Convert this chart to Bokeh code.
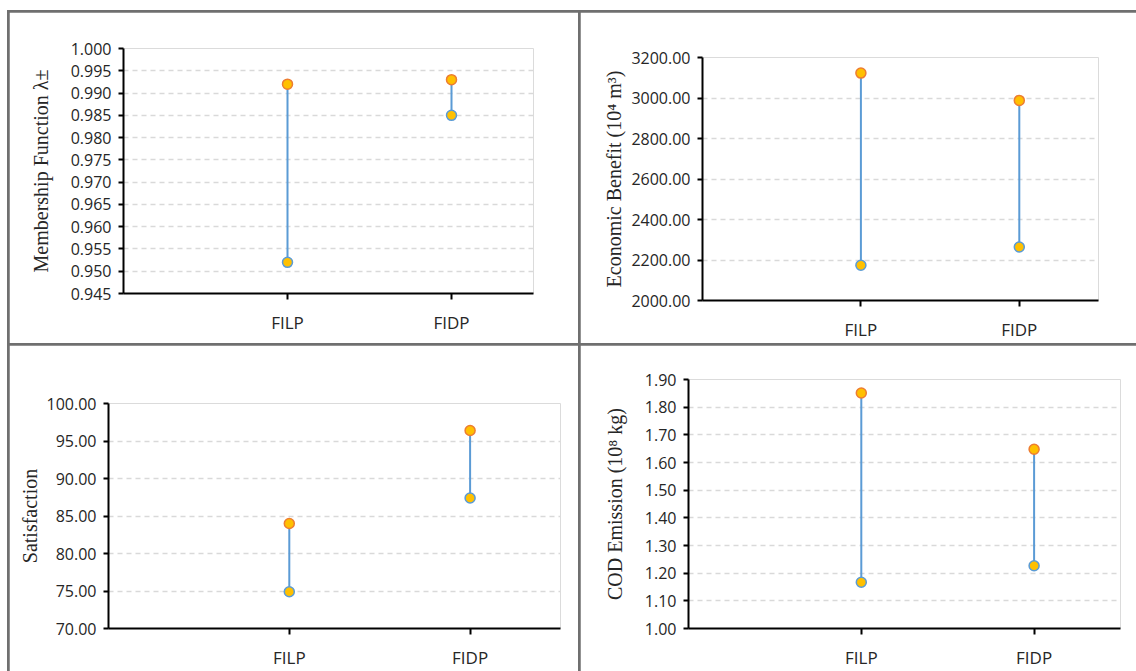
from bokeh.plotting import figure
from bokeh.layouts import row, column
from bokeh.models import FixedTicker, NumeralTickFormatter, Range1d
from bokeh.embed import file_html
from bokeh.resources import INLINE

# ---------------- data ----------------
categories = ["FILP", "FIDP"]
cat_pos = [1, 2]

membership_upper = [0.992, 0.993]
membership_lower = [0.952, 0.985]
membership_ticks = [0.945, 0.950, 0.955, 0.960, 0.965, 0.970, 0.975, 0.980, 0.985, 0.990, 0.995, 1.000]

benefit_upper = [3123, 2988]
benefit_lower = [2174, 2264]
benefit_ticks = [2000, 2200, 2400, 2600, 2800, 3000, 3200]

satisfaction_upper = [84.0, 96.4]
satisfaction_lower = [74.9, 87.4]
satisfaction_ticks = [70, 75, 80, 85, 90, 95, 100]

cod_upper = [1.851, 1.648]
cod_lower = [1.167, 1.227]
cod_ticks = [1.00, 1.10, 1.20, 1.30, 1.40, 1.50, 1.60, 1.70, 1.80, 1.90]

BLUE = "#5B9BD5"
ORANGE = "#ED7D31"
GOLD = "#FFC000"
SANS = "Open Sans"
SERIF = "Liberation Serif"


def make_panel(width, height, bl, br, bt, bb, ticks, fmt, ylabel, upper, lower, label_standoff):
    p = figure(width=width, height=height, output_backend="svg", toolbar_location=None,
               x_range=Range1d(0, 2.5), y_range=Range1d(ticks[0], ticks[-1]),
               min_border_left=bl, min_border_right=br, min_border_top=bt, min_border_bottom=bb)
    p.frame_align = False
    p.outline_line_color = None
    p.background_fill_color = "white"
    p.border_fill_color = "white"

    # grid
    p.xgrid.visible = False
    p.ygrid.ticker = FixedTicker(ticks=ticks)
    p.ygrid.grid_line_color = "#D9D9D9"
    p.ygrid.grid_line_dash = "5 4"
    p.ygrid.grid_line_width = 1.5

    # y axis
    ya = p.yaxis[0]
    ya.ticker = FixedTicker(ticks=ticks)
    ya.formatter = NumeralTickFormatter(format=fmt)
    ya.axis_line_color = "black"
    ya.axis_line_width = 2
    ya.major_tick_line_color = "black"
    ya.major_tick_line_width = 2
    ya.major_tick_in = 0
    ya.major_tick_out = 5
    ya.minor_tick_line_color = None
    ya.major_label_text_font = SANS
    ya.major_label_text_font_size = "16px"
    ya.major_label_text_color = "#262626"
    ya.major_label_standoff = 7
    ya.axis_label = ylabel
    ya.axis_label_text_font = SERIF
    ya.axis_label_text_font_style = "normal"
    ya.axis_label_text_font_size = "20px"
    ya.axis_label_text_color = "#262626"
    ya.axis_label_standoff = label_standoff

    # x axis
    xa = p.xaxis[0]
    xa.ticker = FixedTicker(ticks=cat_pos)
    xa.major_label_overrides = {c: n for c, n in zip(cat_pos, categories)}
    xa.axis_line_color = "black"
    xa.axis_line_width = 2
    xa.major_tick_line_color = "black"
    xa.major_tick_line_width = 2
    xa.major_tick_in = 0
    xa.major_tick_out = 6
    xa.minor_tick_line_color = None
    xa.major_label_text_font = SANS
    xa.major_label_text_font_size = "17px"
    xa.major_label_text_color = "#262626"
    xa.major_label_standoff = 11

    # range bars
    p.segment(x0=cat_pos, y0=lower, x1=cat_pos, y1=upper, line_color=BLUE, line_width=2)
    p.scatter(x=cat_pos, y=upper, size=10, fill_color=GOLD, line_color=ORANGE, line_width=1.5)
    p.scatter(x=cat_pos, y=lower, size=10, fill_color=GOLD, line_color=BLUE, line_width=1.5)
    return p


p1 = make_panel(569, 331, 114, 45, 36, 50, membership_ticks, "0.000",
                "Membership Function λ±", membership_upper, membership_lower, 16)
p2 = make_panel(556, 331, 122, 38, 45, 41, benefit_ticks, "0.00",
                "Economic Benefit (10⁴ m³)", benefit_upper, benefit_lower, 3)
p3 = make_panel(569, 326, 99, 18, 58, 42, satisfaction_ticks, "0.00",
                "Satisfaction", satisfaction_upper, satisfaction_lower, 3)
p4 = make_panel(556, 326, 108, 16, 34, 42, cod_ticks, "0.00",
                "COD Emission (10⁸ kg)", cod_upper, cod_lower, 16)

top = row(p1, p2, spacing=2)
bottom = row(p3, p4, spacing=2)
layout = column(top, bottom, spacing=2, margin=(10, 0, 0, 7),
                styles={"background-color": "#6f6f6f", "padding": "2px 0 0 2px"})

open("out.html", "w").write(file_html(layout, INLINE))
